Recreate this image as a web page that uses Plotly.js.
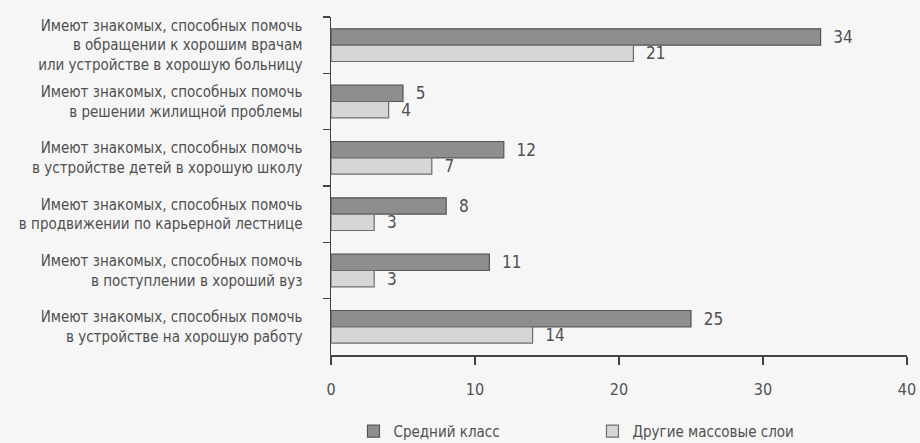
<!DOCTYPE html>
<html>
<head>
<meta charset="utf-8">
<script src="https://cdn.plot.ly/plotly-3.0.1.min.js"></script>
<style>html,body{margin:0;padding:0;background:#f6f6f6;}#chart{width:920px;height:443px;}</style>
</head>
<body>
<div id="chart"></div>
<script>
const categories = [
  "Имеют знакомых, способных помочь<br>в обращении к хорошим врачам<br>или устройстве в хорошую больницу",
  "Имеют знакомых, способных помочь<br>в решении жилищной проблемы",
  "Имеют знакомых, способных помочь<br>в устройстве детей в хорошую школу",
  "Имеют знакомых, способных помочь<br>в продвижении по карьерной лестнице",
  "Имеют знакомых, способных помочь<br>в поступлении в хороший вуз",
  "Имеют знакомых, способных помочь<br>в устройстве на хорошую работу"
];
const seriesNames = ["Средний класс", "Другие массовые слои"];
const middleClass = [34, 5, 12, 8, 11, 25];
const otherStrata = [21, 4, 7, 3, 3, 14];
const xTicks = [0, 10, 20, 30, 40];

const FONT = '"DejaVu Sans Condensed", "Liberation Sans Narrow", sans-serif';
const TXT = '#505050';

function barTrace(name, values, fill, line) {
  return {
    type: 'bar', orientation: 'h', name: name,
    x: values, y: categories,
    marker: {color: fill, line: {color: line, width: 1.2}},
    text: values.map(String),
    texttemplate: '  %{text}',
    textposition: 'outside',
    constraintext: 'none',
    cliponaxis: false,
    textfont: {family: FONT, size: 17, color: TXT},
    hoverinfo: 'x'
  };
}

const data = [
  barTrace(seriesNames[0], middleClass, '#8e8e8e', '#555555'),
  barTrace(seriesNames[1], otherStrata, '#d6d6d6', '#6e6e6e')
];

const layout = {
  width: 920, height: 443,
  margin: {l: 331, r: 13, t: 17, b: 88, autoexpand: false},
  paper_bgcolor: '#f6f6f6', plot_bgcolor: '#f6f6f6',
  font: {family: FONT, color: TXT, size: 15},
  barmode: 'group', bargap: 0.42, bargroupgap: 0,
  showlegend: true,
  legend: {
    orientation: 'h', x: 0.039, xanchor: 'left', y: -0.226, yanchor: 'middle',
    entrywidth: 194, entrywidthmode: 'pixels',
    font: {family: FONT, size: 15, color: TXT},
    bgcolor: 'rgba(0,0,0,0)'
  },
  xaxis: {
    range: [0, 40], tickvals: xTicks, ticktext: xTicks.map(String),
    showgrid: false, zeroline: false,
    showline: true, linecolor: '#444', linewidth: 1.5,
    ticks: 'outside', ticklen: 8, tickcolor: '#444', tickwidth: 1.2,
    ticklabelstandoff: 11,
    tickfont: {family: FONT, size: 16, color: TXT},
    fixedrange: true, automargin: false
  },
  yaxis: {
    type: 'category', categoryorder: 'array', categoryarray: categories,
    autorange: 'reversed',
    showgrid: false, zeroline: false,
    showline: true, linecolor: '#444', linewidth: 1.5,
    ticks: 'outside', tickson: 'boundaries', ticklen: 7, tickcolor: '#444', tickwidth: 1.2,
    ticklabelstandoff: 24,
    tickfont: {family: FONT, size: 15, color: TXT},
    fixedrange: true, automargin: false
  }
};

Plotly.newPlot('chart', data, layout, {displayModeBar: false, staticPlot: true});
</script>
</body>
</html>
